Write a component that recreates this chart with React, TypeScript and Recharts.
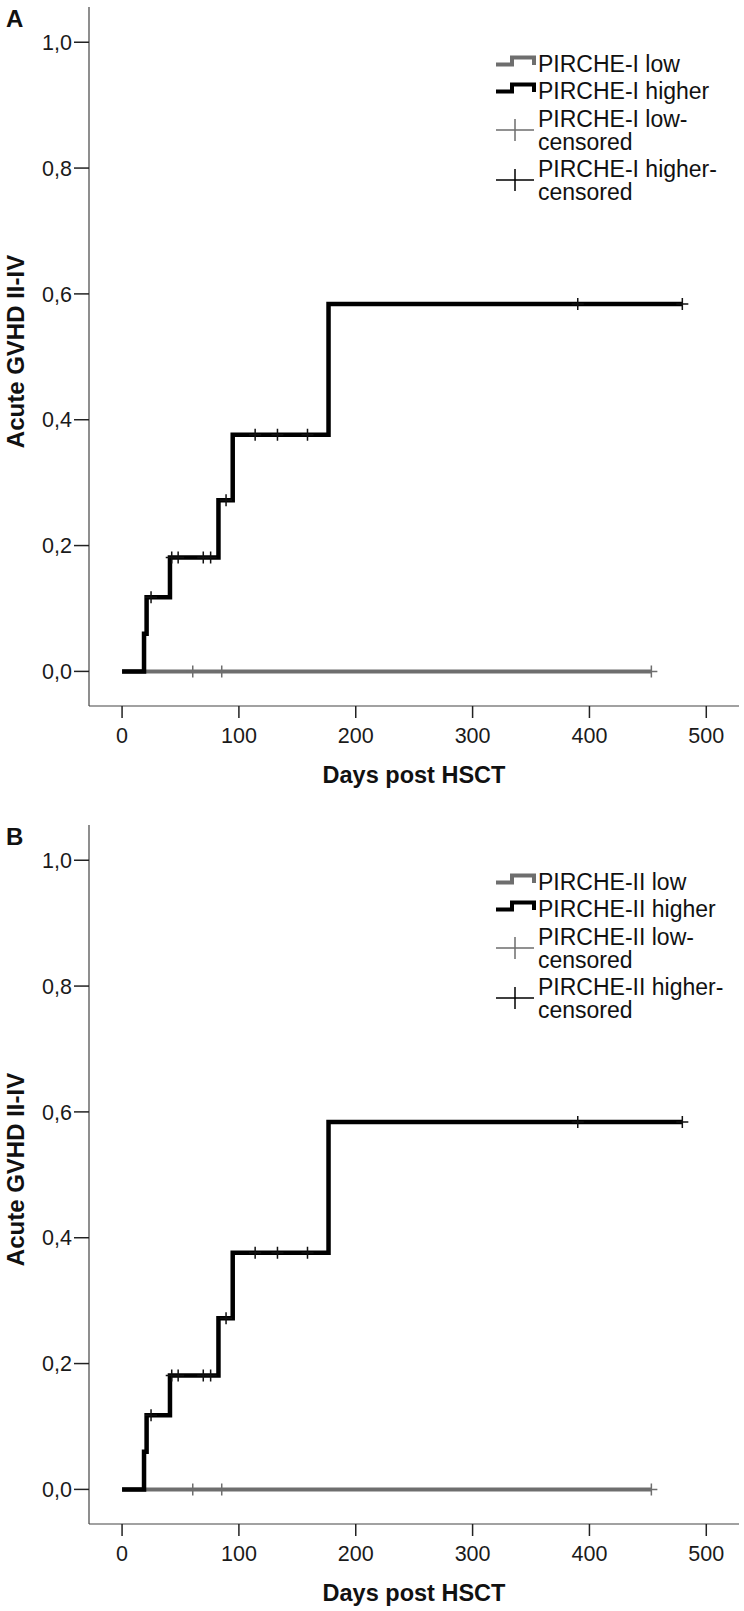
import React from 'react';
import { ComposedChart, Line, Scatter, XAxis, YAxis, Legend, Label } from 'recharts';

// days post HSCT / cumulative incidence
const higherDays = [0, 18.8, 21, 41, 82.5, 94.7, 176.7, 479.5];
const higherRisk = [0, 0.06, 0.118, 0.181, 0.272, 0.376, 0.584, 0.584];
const lowDays = [0, 453];
const lowRisk = [0, 0];

const higherCensorDays = [24.8, 42.5, 48, 69.5, 75.8, 89, 113.9, 133, 158.7, 390, 479.5];
const higherCensorRisk = [0.118, 0.181, 0.181, 0.181, 0.181, 0.272, 0.376, 0.376, 0.376, 0.584, 0.584];
const lowCensorDays = [60.5, 85.3, 453];
const lowCensorRisk = [0, 0, 0];

const xTicks = [0, 100, 200, 300, 400, 500];
const yTicks = [0, 0.2, 0.4, 0.6, 0.8, 1.0];

const panels = [
  { letter: 'A', names: ['PIRCHE-I low', 'PIRCHE-I higher', 'PIRCHE-I low-censored', 'PIRCHE-I higher-censored'] },
  { letter: 'B', names: ['PIRCHE-II low', 'PIRCHE-II higher', 'PIRCHE-II low-censored', 'PIRCHE-II higher-censored'] },
];

const FONT = '"Liberation Sans", Arial, sans-serif';
const GRAY = '#6e6e6e';
const BLACK = '#000';

const zip = (xs: number[], ys: number[]) => xs.map((t, i) => ({ t, v: ys[i] }));
const higherData = zip(higherDays, higherRisk);
const lowData = zip(lowDays, lowRisk);
const higherCensor = zip(higherCensorDays, higherCensorRisk);
const lowCensor = zip(lowCensorDays, lowCensorRisk);

const censorMark = (color: string) => (props: any) => {
  const { cx, cy } = props;
  return (
    <path
      d={`M${cx - 6},${cy}H${cx + 6}M${cx},${cy - 6}V${cy + 6}`}
      stroke={color}
      strokeWidth={1.5}
      fill="none"
    />
  );
};

const StepIcon = ({ color }: { color: string }) => (
  <svg width={44} height={23} style={{ display: 'block', flex: 'none' }}>
    <path d="M2,11.5H18V4.5H40V12" stroke={color} strokeWidth={4} fill="none" />
  </svg>
);

const PlusIcon = ({ color }: { color: string }) => (
  <svg width={44} height={46} style={{ display: 'block', flex: 'none' }}>
    <path d="M2,22H40M21,11V33" stroke={color} strokeWidth={1.5} fill="none" />
  </svg>
);

const KmLegend = ({ names }: { names: string[] }) => {
  const row: React.CSSProperties = { display: 'flex', alignItems: 'flex-start', marginBottom: 4.3 };
  const txt: React.CSSProperties = { width: 195 };
  return (
    <div style={{ fontFamily: FONT, fontSize: 23, lineHeight: '23px', color: '#111' }}>
      <div style={row}><StepIcon color={GRAY} /><div style={txt}>{names[0]}</div></div>
      <div style={row}><StepIcon color={BLACK} /><div style={txt}>{names[1]}</div></div>
      <div style={row}><PlusIcon color={GRAY} /><div style={txt}>{names[2]}</div></div>
      <div style={row}><PlusIcon color={BLACK} /><div style={txt}>{names[3]}</div></div>
    </div>
  );
};

const YTitle = (letter: string) => (props: any) => {
  const vb = props.viewBox || { x: 0, y: 7, width: 89, height: 699 };
  const cy = vb.y + vb.height / 2 - 5;
  return (
    <g fontFamily={FONT} fontWeight="bold" fill="#111">
      <text x={6} y={27} fontSize={24}>{letter}</text>
      <text transform={`translate(24, ${cy}) rotate(-90)`} textAnchor="middle" fontSize={24}>
        Acute GVHD II-IV
      </text>
    </g>
  );
};

const tickStyle = { fontSize: 21.5, fill: '#1a1a1a', fontFamily: FONT };

const Panel = ({ letter, names }: { letter: string; names: string[] }) => (
  <ComposedChart width={744} height={818} margin={{ top: 7, right: 5, left: 0, bottom: 0 }}>
    <XAxis
      type="number"
      dataKey="t"
      domain={[-28.3, 528]}
      ticks={xTicks}
      tick={tickStyle}
      tickSize={12}
      tickMargin={10}
      height={112}
      axisLine={{ stroke: '#444', strokeWidth: 1.2 }}
      tickLine={{ stroke: '#222', strokeWidth: 1.5 }}
    >
      <Label
        value="Days post HSCT"
        position="insideBottom"
        offset={35}
        style={{ fontFamily: FONT, fontWeight: 'bold', fontSize: 23.5, fill: '#111' }}
      />
    </XAxis>
    <YAxis
      type="number"
      dataKey="v"
      domain={[-0.055, 1.056]}
      ticks={yTicks}
      tickFormatter={(v: number) => v.toFixed(1).replace('.', ',')}
      tick={tickStyle}
      tickSize={15}
      tickMargin={2}
      width={89}
      axisLine={{ stroke: '#444', strokeWidth: 1.2 }}
      tickLine={{ stroke: '#222', strokeWidth: 1.5 }}
      label={YTitle(letter)}
    />
    <Legend
      layout="horizontal"
      verticalAlign="middle"
      align="center"
      wrapperStyle={{ position: 'absolute', left: 494, top: 53, width: 245, height: 'auto' }}
      content={() => <KmLegend names={names} />}
    />
    <Line data={lowData} dataKey="v" type="stepAfter" stroke={GRAY} strokeWidth={4} dot={false} activeDot={false} isAnimationActive={false} />
    <Line data={higherData} dataKey="v" type="stepAfter" stroke={BLACK} strokeWidth={4.5} dot={false} activeDot={false} isAnimationActive={false} />
    <Scatter data={lowCensor} dataKey="v" shape={censorMark(GRAY)} isAnimationActive={false} />
    <Scatter data={higherCensor} dataKey="v" shape={censorMark('#111')} isAnimationActive={false} />
  </ComposedChart>
);

export default function App() {
  return (
    <div style={{ position: 'absolute', left: 0, top: 0, width: 744, height: 1611, background: '#fff' }}>
      {panels.map((p) => (
        <div key={p.letter} style={{ width: 744, height: 818, position: 'relative' }}>
          <Panel letter={p.letter} names={p.names} />
        </div>
      ))}
    </div>
  );
}
